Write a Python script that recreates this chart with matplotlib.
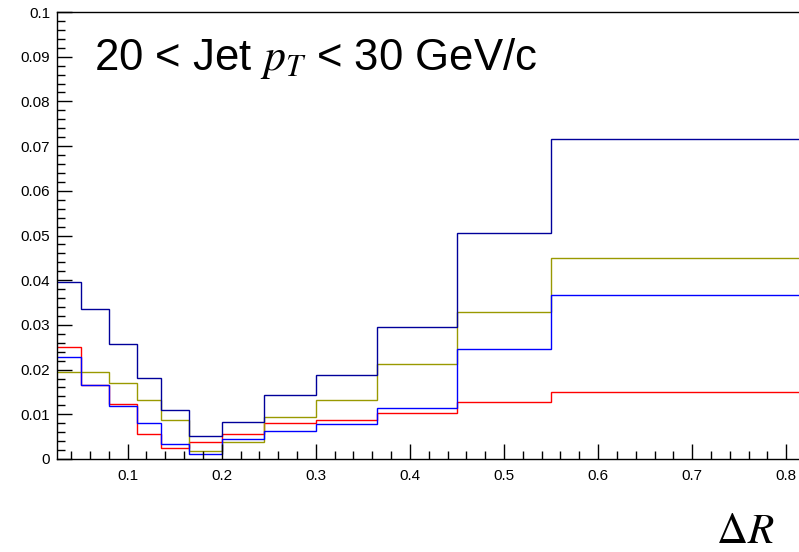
import numpy as np
import matplotlib.pyplot as plt
from matplotlib.ticker import MultipleLocator

# bin edges in delta R (last bin runs past the visible range)
edges = [0.025, 0.05, 0.08, 0.11, 0.135, 0.165, 0.2, 0.245, 0.3, 0.365, 0.45, 0.55, 1.0]

h_darkblue = [0.0397, 0.0335, 0.0257, 0.0181, 0.0109, 0.0051, 0.0082, 0.0144, 0.0189, 0.0295, 0.0506, 0.0717]
h_olive = [0.0194, 0.0194, 0.0169, 0.0132, 0.0087, 0.0019, 0.0038, 0.0094, 0.0133, 0.0213, 0.0328, 0.0450]
h_blue = [0.0228, 0.0165, 0.0118, 0.0080, 0.0033, 0.0011, 0.0045, 0.0062, 0.0078, 0.0114, 0.0246, 0.0366]
h_red = [0.0251, 0.0165, 0.0122, 0.0057, 0.0025, 0.0039, 0.0056, 0.0081, 0.0087, 0.0102, 0.0128, 0.0151]

plt.rcParams['font.family'] = ['Liberation Sans', 'DejaVu Sans']
plt.rcParams['mathtext.fontset'] = 'stix'

fig = plt.figure(figsize=(7.99, 5.52), dpi=100)
ax = fig.add_axes([57 / 799, 1 - 459 / 552, 1 - 57 / 799, (459 - 12) / 552])

ax.stairs(h_red, edges, color='#ff0000', lw=1.0, baseline=None)
ax.stairs(h_olive, edges, color='#999900', lw=1.0, baseline=None)
ax.stairs(h_blue, edges, color='#0000ff', lw=1.0, baseline=None)
ax.stairs(h_darkblue, edges, color='#00009a', lw=1.0, baseline=None)

ax.set_xlim(0.025, 0.8135)
ax.set_ylim(0, 0.1)

ax.xaxis.set_major_locator(MultipleLocator(0.1))
ax.xaxis.set_minor_locator(MultipleLocator(0.02))
ax.yaxis.set_major_locator(MultipleLocator(0.01))
ax.yaxis.set_minor_locator(MultipleLocator(0.002))
ax.xaxis.set_major_formatter(lambda v, p: f'{v:g}')
ax.yaxis.set_major_formatter(lambda v, p: f'{v:g}')

ax.tick_params(which='major', direction='in', length=11, width=1, labelsize=11)
ax.tick_params(which='minor', direction='in', length=5.5, width=1)
ax.tick_params(axis='x', pad=7)
ax.tick_params(axis='y', pad=5)
ax.tick_params(top=False, right=False, which='both')
ax.spines['right'].set_visible(False)
for s in ['top', 'left', 'bottom']:
    ax.spines[s].set_linewidth(1.0)

fig.text(94 / 799, 1 - 70 / 552, r'20 < Jet $p_T$ < 30 GeV/c', fontsize=31.5, ha='left', va='baseline')
fig.text(745 / 799, 1 - 543 / 552, r'$\Delta R$', fontsize=31, ha='center', va='baseline')

fig.savefig('out.png', dpi=100)
